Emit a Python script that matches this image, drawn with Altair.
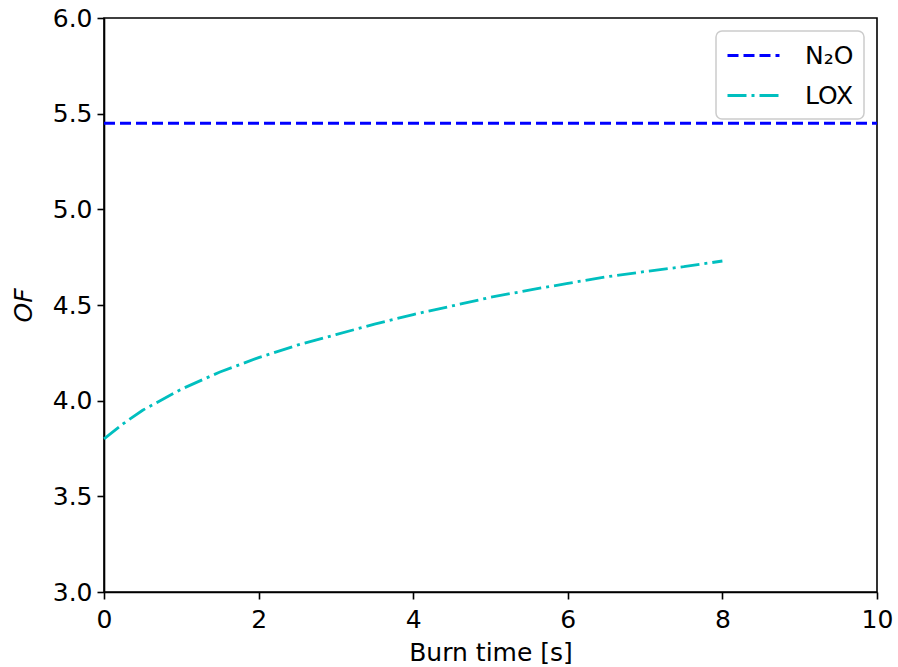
import altair as alt
import pandas as pd

# N2O: constant OF
n2o_t = [0.0, 10.0]
n2o_of = [5.45, 5.45]

# LOX: OF over burn time
lox_t = [0.0, 0.25, 0.5, 1.0, 1.5, 2.0, 2.5, 3.0, 3.5, 4.0, 4.5, 5.0, 5.5, 6.0, 6.5, 7.0, 7.5, 8.0]
lox_of = [3.80, 3.88, 3.95, 4.06, 4.15, 4.225, 4.29, 4.345, 4.40, 4.45, 4.495, 4.54, 4.578, 4.613, 4.647, 4.675, 4.70, 4.73]

series_names = ["N₂O", "LOX"]
series_colors = ["#0000ff", "#00bfbf"]
series_dashes = [[11, 5], [19, 5, 3, 5]]

df = pd.concat([
    pd.DataFrame({"t": n2o_t, "of": n2o_of, "series": series_names[0]}),
    pd.DataFrame({"t": lox_t, "of": lox_of, "series": series_names[1]}),
])

FONT = "DejaVu Sans"

legend = alt.Legend(title=None, orient="top-right", offset=13)

chart = alt.Chart(df).mark_line(strokeWidth=2.8).encode(
    x=alt.X("t:Q", scale=alt.Scale(domain=[0, 10], nice=False, zero=False),
            axis=alt.Axis(title="Burn time [s]", values=[0, 2, 4, 6, 8, 10], format="d")),
    y=alt.Y("of:Q", scale=alt.Scale(domain=[3.0, 6.0], nice=False, zero=False),
            axis=alt.Axis(title="OF", values=[3.0, 3.5, 4.0, 4.5, 5.0, 5.5, 6.0], format=".1f",
                          titleFontStyle="italic")),
    color=alt.Color("series:N", sort=series_names,
                    scale=alt.Scale(domain=series_names, range=series_colors),
                    legend=legend),
    strokeDash=alt.StrokeDash("series:N", sort=series_names,
                              scale=alt.Scale(domain=series_names, range=series_dashes),
                              legend=legend),
    detail="series:N",
).properties(
    width=773, height=574,
    autosize=alt.AutoSizeParams(type="none"),
    padding={"left": 104, "top": 18, "right": 21, "bottom": 75},
    background="white",
).configure_view(
    stroke="black", strokeWidth=1.6, fill="white"
).configure_axis(
    grid=False, labelFlush=False,
    domainColor="black", domainWidth=1.6,
    tickColor="black", tickWidth=1.6, tickSize=7,
    labelFont=FONT, labelFontSize=25, labelColor="black", labelPadding=5,
    titleFont=FONT, titleFontSize=25, titleColor="black", titleFontWeight="normal",
).configure_axisX(
    labelPadding=8,
    titlePadding=8,
).configure_axisY(
    titlePadding=16,
).configure_legend(
    labelFont=FONT, labelFontSize=25, labelColor="black",
    symbolType="M-1,0L3,0", symbolSize=676, symbolStrokeWidth=2.8,
    symbolFillColor="transparent",
    labelOffset=50, rowPadding=12,
    fillColor="white", strokeColor="#cccccc", strokeWidth=1.5, cornerRadius=6, padding=10,
)

chart.save("out.html", embed_options={"renderer": "svg", "actions": False})
